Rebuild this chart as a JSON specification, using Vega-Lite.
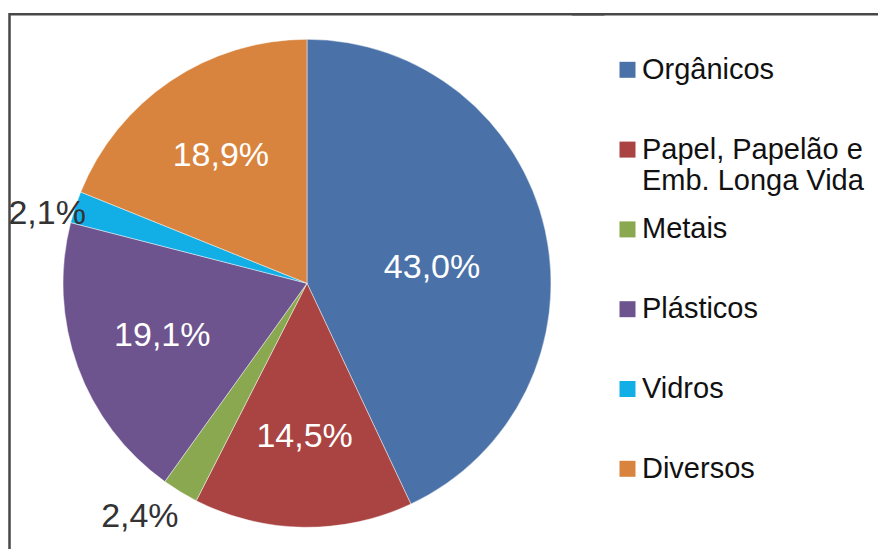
{
  "$schema": "https://vega.github.io/schema/vega-lite/v6.json",
  "width": 595,
  "height": 538,
  "autosize": {"type": "none"},
  "padding": {"left": 9.5, "top": 14.3, "right": 273.5, "bottom": 0},
  "background": "white",
  "view": {"stroke": "#484848", "strokeWidth": 2.5, "strokeDash": [595, 1133, 538]},
  "config": {
    "locale": {"number": {"decimal": ",", "thousands": ".", "grouping": [3], "currency": ["R$", ""]}},
    "font": "Liberation Sans",
    "legend": {"strokeColor": "#484848", "strokeWidth": 2.5, "strokeDash": [420, 5000]}
  },
  "data": {
    "values": [
      {"categoria": "Orgânicos", "valor": 0.430, "ordem": 1},
      {"categoria": "Papel, Papelão e Emb. Longa Vida", "valor": 0.145, "ordem": 2},
      {"categoria": "Metais", "valor": 0.024, "ordem": 3},
      {"categoria": "Plásticos", "valor": 0.191, "ordem": 4},
      {"categoria": "Vidros", "valor": 0.021, "ordem": 5},
      {"categoria": "Diversos", "valor": 0.189, "ordem": 6}
    ]
  },
  "encoding": {
    "theta": {"field": "valor", "type": "quantitative", "stack": true},
    "order": {"field": "ordem", "type": "quantitative"}
  },
  "layer": [
    {
      "mark": {"type": "arc", "radius": 244, "stroke": "white", "strokeWidth": 1, "strokeOpacity": 0.45},
      "encoding": {
        "color": {
          "field": "categoria",
          "type": "nominal",
          "scale": {
            "domain": ["Orgânicos", "Papel, Papelão e Emb. Longa Vida", "Metais", "Plásticos", "Vidros", "Diversos"],
            "range": ["#4a72a8", "#a94442", "#8aa84f", "#6e548e", "#12aee6", "#d9843e"]
          },
          "legend": {
            "orient": "none",
            "legendX": 562.5,
            "legendY": 0,
            "title": null,
            "padding": 41,
            "symbolType": "square",
            "symbolSize": 256,
            "symbolStrokeWidth": 0,
            "labelFontSize": 29,
            "labelColor": "#111111",
            "labelOffset": 0,
            "rowPadding": 18.8,
            "labelLimit": 400,
            "labelExpr": "datum.label == 'Papel, Papelão e Emb. Longa Vida' ? ['Papel, Papelão e', 'Emb. Longa Vida'] : [datum.label, '']"
          }
        }
      }
    },
    {
      "mark": {"type": "text", "radius": 154, "fontSize": 34, "fill": "white"},
      "encoding": {
        "text": {
          "condition": {"test": "datum.valor >= 0.05 && datum.categoria != 'Orgânicos'", "field": "valor", "type": "quantitative", "format": ".1%"},
          "value": ""
        }
      }
    },
    {
      "mark": {"type": "text", "radius": 126, "thetaOffset": 0.096, "fontSize": 34, "fill": "white"},
      "encoding": {
        "text": {
          "condition": {"test": "datum.categoria == 'Orgânicos'", "field": "valor", "type": "quantitative", "format": ".1%"},
          "value": ""
        }
      }
    },
    {
      "mark": {"type": "text", "radius": 269, "thetaOffset": -0.056, "fontSize": 34, "fill": "#333333"},
      "encoding": {
        "text": {
          "condition": {"test": "datum.categoria == 'Vidros'", "field": "valor", "type": "quantitative", "format": ".1%"},
          "value": ""
        }
      }
    },
    {
      "mark": {"type": "text", "radius": 287, "thetaOffset": 0.075, "fontSize": 34, "fill": "#333333"},
      "encoding": {
        "text": {
          "condition": {"test": "datum.categoria == 'Metais'", "field": "valor", "type": "quantitative", "format": ".1%"},
          "value": ""
        }
      }
    }
  ]
}
